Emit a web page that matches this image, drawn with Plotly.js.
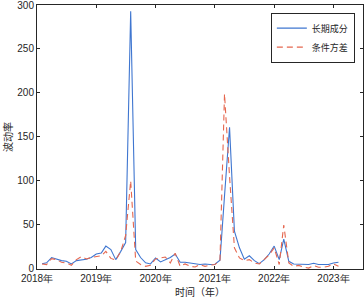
<!DOCTYPE html>
<html>
<head>
<meta charset="utf-8">
<script src="https://cdn.plot.ly/plotly-3.0.1.min.js"></script>
<style>
html,body{margin:0;padding:0;background:#fff;}
#chart{width:364px;height:302px;}
</style>
</head>
<body>
<div id="chart"></div>
<script>
// Monthly observations, Feb 2018 – Feb 2023
const startYear = 2018, startMonth = 2, nPoints = 61;
const dates = [];
for (let i = 0; i < nPoints; i++) {
  const mm = startMonth - 1 + i;
  const y = startYear + Math.floor(mm / 12);
  const m = (mm % 12) + 1;
  dates.push(y + '-' + String(m).padStart(2, '0') + '-01');
}

const longTerm = [
  6, 7, 13, 11, 9.5, 8.7, 5.7, 9.5, 10, 11, 13, 17,
  18, 26, 22, 10.6, 20, 30, 293, 22, 13, 7, 5.7, 12.5,
  8, 10.6, 13, 17, 7.6, 7.6, 6.8, 5.7, 5, 5.7, 5, 5.3,
  10, 83, 161, 43, 24, 11, 15, 9.5, 6, 10.6, 17, 26,
  10.6, 34, 8.7, 5.7, 5.7, 5, 5, 6.4, 5, 5, 5, 6.8,
  7.6
];

const condVar = [
  5.7, 5, 11.7, 10.6, 7.6, 6.8, 4.2, 10.6, 14, 11.4, 13, 13.6,
  15, 20, 12, 10, 20, 38, 100, 9, 5, 3, 4.2, 11.4,
  12.5, 13.6, 6.8, 18, 3, 5.7, 3, 2.3, 5, 3, 4.2, 5,
  10, 199, 105, 24, 12.5, 9.5, 10.6, 6.8, 5.7, 10.6, 16, 24,
  5, 50, 6.8, 3, 4, 2, 1, 4, 2, 2, 3, 5.7,
  3
];

const seriesNames = ['长期成分', '条件方差'];
const tickYears = ['2018', '2019', '2020', '2021', '2022', '2023'];
const tickVals = tickYears.map(y => y + '-01-01');
const tickText = tickYears.map(y => y + '年');
const yTicks = [0, 50, 100, 150, 200, 250, 300];

const axisColor = '#262626';
const tickFont = {family: 'Liberation Sans, Arial, sans-serif', size: 10, color: axisColor};
const cjkFont = 'Noto Sans CJK SC, sans-serif';

const traces = [
  {
    x: dates, y: longTerm, type: 'scatter', mode: 'lines',
    name: seriesNames[0],
    line: {color: '#3F76D0', width: 1.1}
  },
  {
    x: dates, y: condVar, type: 'scatter', mode: 'lines',
    name: seriesNames[1],
    line: {color: '#E5674F', width: 1.1, dash: '6px,4px'}
  }
];

const layout = {
  width: 364, height: 302,
  margin: {l: 37, r: 1, t: 5, b: 33, pad: 0},
  paper_bgcolor: '#fff', plot_bgcolor: '#fff',
  showlegend: true,
  xaxis: {
    type: 'date',
    range: ['2018-01-01', '2023-07-02'],
    tickvals: tickVals, ticktext: tickText,
    ticks: 'inside', ticklen: 3, tickcolor: axisColor, tickwidth: 1,
    showline: true, linecolor: axisColor, linewidth: 1, mirror: 'ticks',
    showgrid: false, zeroline: false,
    tickfont: tickFont, ticklabeloverflow: 'allow',
    title: {text: '时间（年）', font: {family: cjkFont, size: 10, color: axisColor}, standoff: 3}
  },
  yaxis: {
    range: [-0.05, 300],
    tickvals: yTicks, ticktext: yTicks.map(String),
    ticks: 'inside', ticklen: 3, tickcolor: axisColor, tickwidth: 1,
    showline: true, linecolor: axisColor, linewidth: 1, mirror: 'ticks',
    showgrid: false, zeroline: false,
    tickfont: tickFont, ticklabeloverflow: 'allow',
    title: {text: '波动率', font: {family: cjkFont, size: 10, color: axisColor}, standoff: 4}
  },
  legend: {
    x: 0.975, y: 0.971, xanchor: 'right', yanchor: 'top',
    bgcolor: '#fff', bordercolor: axisColor, borderwidth: 1,
    font: {family: cjkFont, size: 9, color: axisColor},
    tracegroupgap: 0, itemwidth: 30
  }
};

Plotly.newPlot('chart', traces, layout, {staticPlot: true, displayModeBar: false});
</script>
</body>
</html>
